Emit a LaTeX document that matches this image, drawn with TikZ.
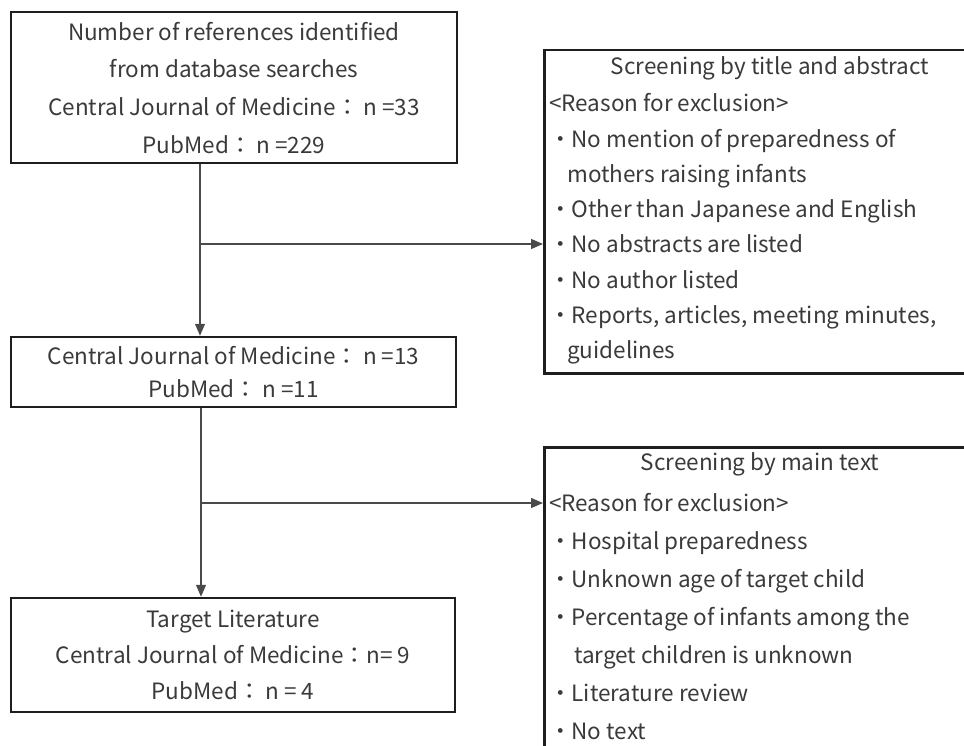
\documentclass[tikz,border=0pt]{standalone}
\usepackage{fontspec}
\setmainfont{Noto Sans CJK JP}
\usetikzlibrary{arrows.meta, positioning}
\definecolor{boxline}{HTML}{1E1E1E}
\definecolor{inktext}{HTML}{3A3A3A}
\definecolor{linkgray}{HTML}{4A4A4A}
\tikzset{
    % framed boxes of the chart
    chartbox/.style={
        draw=boxline, line width=2.5pt, rectangle,
        inner sep=0pt, text=inktext, align=center
    },
    % connector with a filled head
    flow/.style={
        draw=linkgray, line width=1.1pt,
        -{Triangle[length=12pt, width=10pt]}
    },
    listtext/.style={
        text=inktext, align=left, inner sep=0pt
    }
}

\begin{document}
\begin{tikzpicture}[x=1pt, y=-1pt, font=\fontsize{22.5}{37}\selectfont]
    \useasboundingbox (0,0) rectangle (964,746);
    \clip (0,0) rectangle (964,746);

    % left column
    \node[chartbox, minimum width=446pt, minimum height=151pt, text depth=0pt,
          font=\fontsize{22.5}{37.7}\selectfont] (srch) at (234,87.5)
        {Number of references identified\\from database searches\\Central Journal of Medicine： n =33\\PubMed： n =229};
    \node[chartbox, minimum width=445pt, minimum height=70pt,
          font=\fontsize{22.5}{33}\selectfont] (fst) at (233.5,372)
        {Central Journal of Medicine： n =13\\PubMed： n =11};
    \node[chartbox, minimum width=444pt, minimum height=114pt,
          font=\fontsize{22.5}{36}\selectfont] (tgt) at (233,655)
        {Target Literature\\Central Journal of Medicine：n= 9\\PubMed： n = 4};

    % right column, cut by the page edge
    \node[chartbox, minimum width=480pt, minimum height=323pt, anchor=north west] (scr1) at (543,49) {};
    \node[listtext] (scr1head) at (770,68) {Screening by title and abstract};
    \node[listtext, anchor=west, font=\fontsize{22.5}{35.3}\selectfont] (scr1list) at (549,229)
        {<Reason for exclusion>\\・No mention of preparedness of\\\hspace*{18pt}mothers raising infants\\・Other than Japanese and English\\・No abstracts are listed\\・No author listed\\・Reports, articles, meeting minutes,\\\hspace*{18pt}guidelines};

    \node[chartbox, minimum width=480pt, minimum height=400pt, anchor=north west] (scr2) at (543,446) {};
    \node[listtext] (scr2head) at (760,464) {Screening by main text};
    \node[listtext, anchor=west, font=\fontsize{22.5}{38}\selectfont] (scr2list) at (549,617)
        {<Reason for exclusion>\\・Hospital preparedness\\・Unknown age of target child\\・Percentage of infants among the\\\hspace*{25pt}target children is unknown\\・Literature review\\・No text};

    \coordinate (trunk1) at (200,244);
    \coordinate (trunk2) at (201,503);
    \foreach \a/\b/\s/\j in {srch/fst/scr1/trunk1, fst/tgt/scr2/trunk2} {
        \draw[flow] (\a.south -| \j) -- (\b.north -| \j);
        \draw[flow] (\j) -- (\s.west |- \j);
    }
\end{tikzpicture}
\end{document}
